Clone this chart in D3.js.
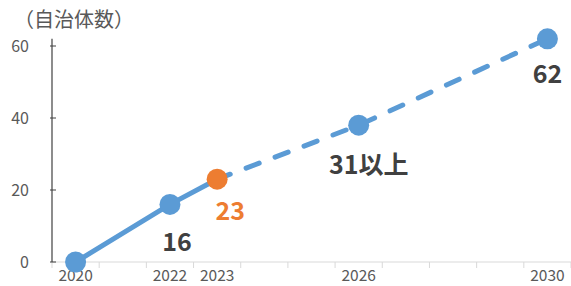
<!DOCTYPE html>
<html>
<head>
<meta charset="utf-8">
<script src="https://cdn.jsdelivr.net/npm/d3@7"></script>
<style>
  body { margin: 0; background: #fff; }
  text { font-family: "Noto Sans CJK JP", "Noto Sans", sans-serif; }
</style>
</head>
<body>
<div id="chart"></div>
<script>
var svgWidth = 571;
var svgHeight = 286;

// data
var years = [2020, 2021, 2022, 2023, 2024, 2025, 2026, 2027, 2028, 2029, 2030];
var tickYears = [2020, 2022, 2023, 2026, 2030];
var actualYears = [2020, 2022, 2023];
var actualValues = [0, 16, 23];
var targetYears = [2023, 2026, 2030];
var targetValues = [23, 38, 62];
var pointLabels = ["", "16", "23", "31以上", "62"];
var yTicks = [0, 20, 40, 60];

var margin = { top: 46, right: 0, bottom: 24, left: 52 };
var width = svgWidth - margin.left - margin.right;
var height = svgHeight - margin.top - margin.bottom;

var svg = d3.select("#chart")
  .append("svg")
  .attr("width", svgWidth)
  .attr("height", svgHeight);

var chartGroup = svg.append("g")
  .attr("transform", `translate(${margin.left}, ${margin.top})`);

var xScale = d3.scaleBand()
  .domain(years)
  .range([0, width]);

var yScale = d3.scaleLinear()
  .domain([0, 60])
  .range([height, 0]);

var xc = d => xScale(d) + xScale.bandwidth() / 2;

// x axis: ticks on category boundaries, labels on selected years only
chartGroup.append("line")
  .attr("x1", 0).attr("x2", width)
  .attr("y1", height).attr("y2", height)
  .attr("stroke", "#d9d9d9").attr("stroke-width", 1.2);

chartGroup.selectAll(".xtick")
  .data(years.concat(["end"]))
  .enter()
  .append("line")
  .attr("x1", (d, i) => i * xScale.bandwidth())
  .attr("x2", (d, i) => i * xScale.bandwidth())
  .attr("y1", height).attr("y2", height + 6)
  .attr("stroke", "#d9d9d9");

chartGroup.selectAll(".xlabel")
  .data(tickYears)
  .enter()
  .append("text")
  .attr("x", d => xc(d))
  .attr("y", height + 19)
  .attr("text-anchor", "middle")
  .attr("fill", "#595959")
  .style("font-size", "15.5px")
  .text(d => d);

// y axis
var yAxis = d3.axisLeft(yScale).tickValues(yTicks).tickSize(0).tickPadding(0);
var yg = chartGroup.append("g").call(yAxis);
yg.select(".domain").remove();
yg.selectAll("text")
  .attr("x", -23)
  .attr("fill", "#595959")
  .style("font-size", "16px")
  .style("font-family", "'Noto Sans CJK JP', sans-serif");

chartGroup.append("line")
  .attr("x1", 0).attr("x2", 0)
  .attr("y1", yScale(62)).attr("y2", height)
  .attr("stroke", "#404040").attr("stroke-width", 1.2);

chartGroup.selectAll(".ytick")
  .data(yTicks)
  .enter()
  .append("line")
  .attr("x1", -2).attr("x2", 4)
  .attr("y1", d => yScale(d)).attr("y2", d => yScale(d))
  .attr("stroke", "#404040");

// axis title
svg.append("text")
  .attr("x", 14)
  .attr("y", 27)
  .attr("fill", "#595959")
  .style("font-size", "20px")
  .text("（自治体数）");

// lines
var line = d3.line()
  .x(d => xc(d[0]))
  .y(d => yScale(d[1]));

chartGroup.append("path")
  .datum(d3.zip(targetYears, targetValues))
  .attr("d", line)
  .attr("fill", "none")
  .attr("stroke", "#5b9bd5")
  .attr("stroke-width", 5)
  .attr("stroke-linecap", "round")
  .attr("stroke-dasharray", "14 17");

chartGroup.append("path")
  .datum(d3.zip(actualYears, actualValues))
  .attr("d", line)
  .attr("fill", "none")
  .attr("stroke", "#5b9bd5")
  .attr("stroke-width", 5);

// markers
var pts = [
  { year: 2020, value: 0, color: "#5b9bd5" },
  { year: 2022, value: 16, color: "#5b9bd5" },
  { year: 2023, value: 23, color: "#ed7d31" },
  { year: 2026, value: 38, color: "#5b9bd5" },
  { year: 2030, value: 62, color: "#5b9bd5" }
];

chartGroup.selectAll("circle")
  .data(pts)
  .enter()
  .append("circle")
  .attr("cx", d => xc(d.year))
  .attr("cy", d => yScale(d.value))
  .attr("r", 10.5)
  .attr("fill", d => d.color);

// data labels
var labelOffset = [[0, 0], [7, 47], [13, 41], [10, 49], [0, 44]];
chartGroup.selectAll(".plabel")
  .data(pts)
  .enter()
  .append("text")
  .attr("x", (d, i) => xc(d.year) + labelOffset[i][0])
  .attr("y", (d, i) => yScale(d.value) + labelOffset[i][1])
  .attr("text-anchor", "middle")
  .attr("fill", (d, i) => i == 2 ? "#ed7d31" : "#404040")
  .style("font-size", "25px")
  .style("font-weight", "bold")
  .text((d, i) => pointLabels[i]);
</script>
</body>
</html>
